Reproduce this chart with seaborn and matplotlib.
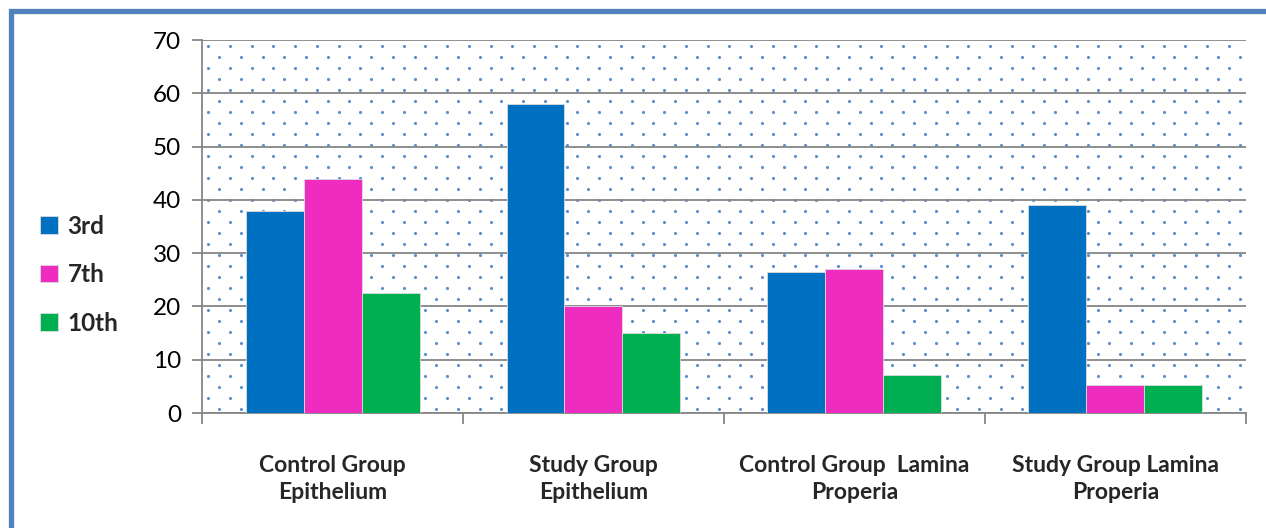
import numpy as np
import pandas as pd
import matplotlib
import matplotlib.pyplot as plt
import matplotlib.patches as mpatches
import seaborn as sns

matplotlib.use('Agg')

# --- data ---
categories = ["Control Group\nEpithelium", "Study Group\nEpithelium",
              "Control Group  Lamina\nProperia", "Study Group Lamina\nProperia"]
days = ["3rd", "7th", "10th"]
vals_3rd = [38, 58, 26.5, 39]
vals_7th = [44, 20, 27, 5.3]
vals_10th = [22.5, 15, 7.2, 5.3]
colors = ["#0070C0", "#EE2CC0", "#00B050"]

df = pd.DataFrame({
    "group": categories * 3,
    "day": [d for d in days for _ in categories],
    "value": vals_3rd + vals_7th + vals_10th,
})

sns.set_theme(style="white")
plt.rcParams['font.family'] = ['Lato', 'DejaVu Sans']

fig = plt.figure(figsize=(12.66, 5.28), dpi=100)
ax = fig.add_axes([0.1596, 0.2178, 0.8245, 0.7064])

# dotted background texture
step_x, step_y = 0.0208, 0.0295
rows = np.arange(0.985, 0, -step_y)
for i, yy in enumerate(rows):
    xs = np.arange(0.006 + (step_x / 2 if i % 2 else 0), 1, step_x)
    ax.scatter(xs, np.full_like(xs, yy), s=5, color="#5B8ED0", lw=0,
               transform=ax.transAxes, zorder=0.5)

sns.barplot(data=df, x="group", y="value", hue="day", order=categories,
            hue_order=days, palette=colors, width=2/3, saturation=1,
            edgecolor="#dddddd", linewidth=0.6, ax=ax, zorder=3)

ax.set_ylim(0, 70)
ax.set_xlim(-0.5, 3.5)
ax.set_yticks(range(0, 71, 10))
ax.yaxis.grid(True, color="#868686", linewidth=1.3, zorder=1)
ax.set_axisbelow(True)
ax.tick_params(axis='y', which='major', left=True, length=7, width=1.3,
               color="#868686", labelsize=17.5, pad=8, labelcolor="black")

# tick marks on group boundaries, labels on centres
ax.set_xticks([-0.5, 0.5, 1.5, 2.5, 3.5])
ax.set_xticklabels([])
ax.set_xticks(range(len(categories)), minor=True)
ax.set_xticklabels(categories, minor=True, fontsize=16.5, fontweight='bold',
                   linespacing=1.35)
ax.tick_params(axis='x', which='minor', bottom=False, length=0, pad=30)
ax.tick_params(axis='x', which='major', bottom=True, length=8, width=1.3,
               color="#868686")

for s in ["top", "right"]:
    ax.spines[s].set_visible(False)
for s in ["left", "bottom"]:
    ax.spines[s].set_color("#868686")
    ax.spines[s].set_linewidth(1.3)
ax.set_xlabel("")
ax.set_ylabel("")

handles, labels = ax.get_legend_handles_labels()
ax.legend(handles, labels, loc="center left", bbox_to_anchor=(0.014, 0.48),
          bbox_transform=fig.transFigure, frameon=False, handlelength=0.75,
          handleheight=0.75, handletextpad=0.4, labelspacing=1.05,
          prop={'weight': 'bold', 'size': 17.5})

# blue outer frame (cut by the right and bottom edge)
frame = mpatches.Rectangle((11 / 1266, -0.2), 1.2, 1.2 - 11 / 528,
                           transform=fig.transFigure, fill=False,
                           edgecolor="#4F81BD", linewidth=3.8, clip_on=False)
fig.patches.append(frame)

fig.savefig("out.png", dpi=100)
plt.close(fig)
